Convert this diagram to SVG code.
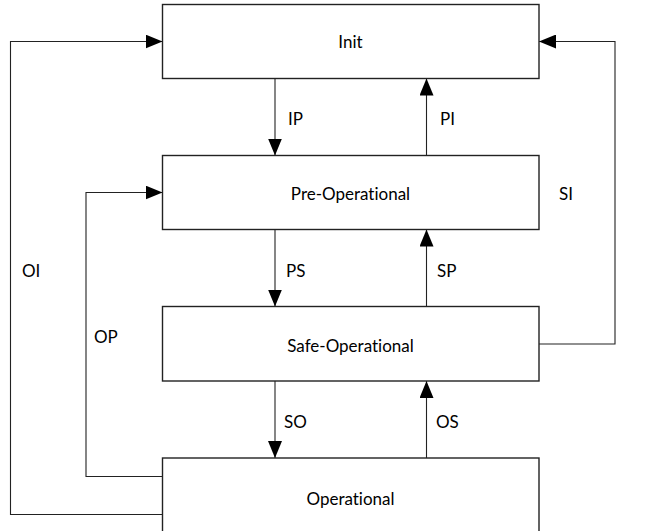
<svg xmlns="http://www.w3.org/2000/svg" width="645" height="531" viewBox="0 0 645 531">
  <defs>
    <marker id="arr" viewBox="0 0 17 14" refX="17" refY="7" markerWidth="17" markerHeight="14" markerUnits="userSpaceOnUse" orient="auto">
      <path d="M0,0 L17,7 L0,14 z" fill="#000"/>
    </marker>
    <style>
      .box { fill: #fff; stroke: #222; stroke-width: 1.4; }
      .lbl { font-family: Lato, "Liberation Sans", sans-serif; font-size: 17px; fill: #000; font-variant-ligatures: none; }
      .c { text-anchor: middle; dominant-baseline: central; }
      .e { dominant-baseline: central; }
      .con { fill: none; stroke: #222; stroke-width: 1.1; marker-end: url(#arr); }
    </style>
  </defs>
  <rect width="645" height="531" fill="#fff"/>
  <g id="connectors">
    <path class="con" d="M275,78.5 V155.5"/>
    <path class="con" d="M426.5,229.5 V78.5"/>
    <path class="con" d="M275,229.5 V306.5"/>
    <path class="con" d="M426.5,306.5 V229.5"/>
    <path class="con" d="M275,381 V458"/>
    <path class="con" d="M426.5,458 V381"/>
    <path class="con" d="M162.5,476.5 H86 V192.5 H162.5"/>
    <path class="con" d="M162.5,514.5 H10.5 V41.5 H162.5"/>
    <path class="con" d="M539,344 H615 V41.5 H539"/>
    <text class="lbl e" x="288" y="118">IP</text>
    <text class="lbl e" x="440" y="118">PI</text>
    <text class="lbl e" x="286" y="270">PS</text>
    <text class="lbl e" x="437" y="270">SP</text>
    <text class="lbl e" x="284" y="421">SO</text>
    <text class="lbl e" x="436" y="421">OS</text>
    <text class="lbl e" x="22" y="270">OI</text>
    <text class="lbl e" x="94" y="336">OP</text>
    <text class="lbl e" x="559" y="193">SI</text>
  </g>
  <g id="init">
    <rect class="box" x="162.5" y="4.5" width="376.5" height="74"/>
    <text class="lbl c" x="350.5" y="41.5">Init</text>
  </g>
  <g id="preop">
    <rect class="box" x="162.5" y="155.5" width="376.5" height="74"/>
    <text class="lbl c" x="350.5" y="193">Pre-Operational</text>
  </g>
  <g id="safeop">
    <rect class="box" x="162.5" y="306.5" width="376.5" height="74.5"/>
    <text class="lbl c" x="350.5" y="345">Safe-Operational</text>
  </g>
  <g id="op">
    <rect class="box" x="162.5" y="458" width="376.5" height="80"/>
    <text class="lbl c" x="350.5" y="498">Operational</text>
  </g>
</svg>
